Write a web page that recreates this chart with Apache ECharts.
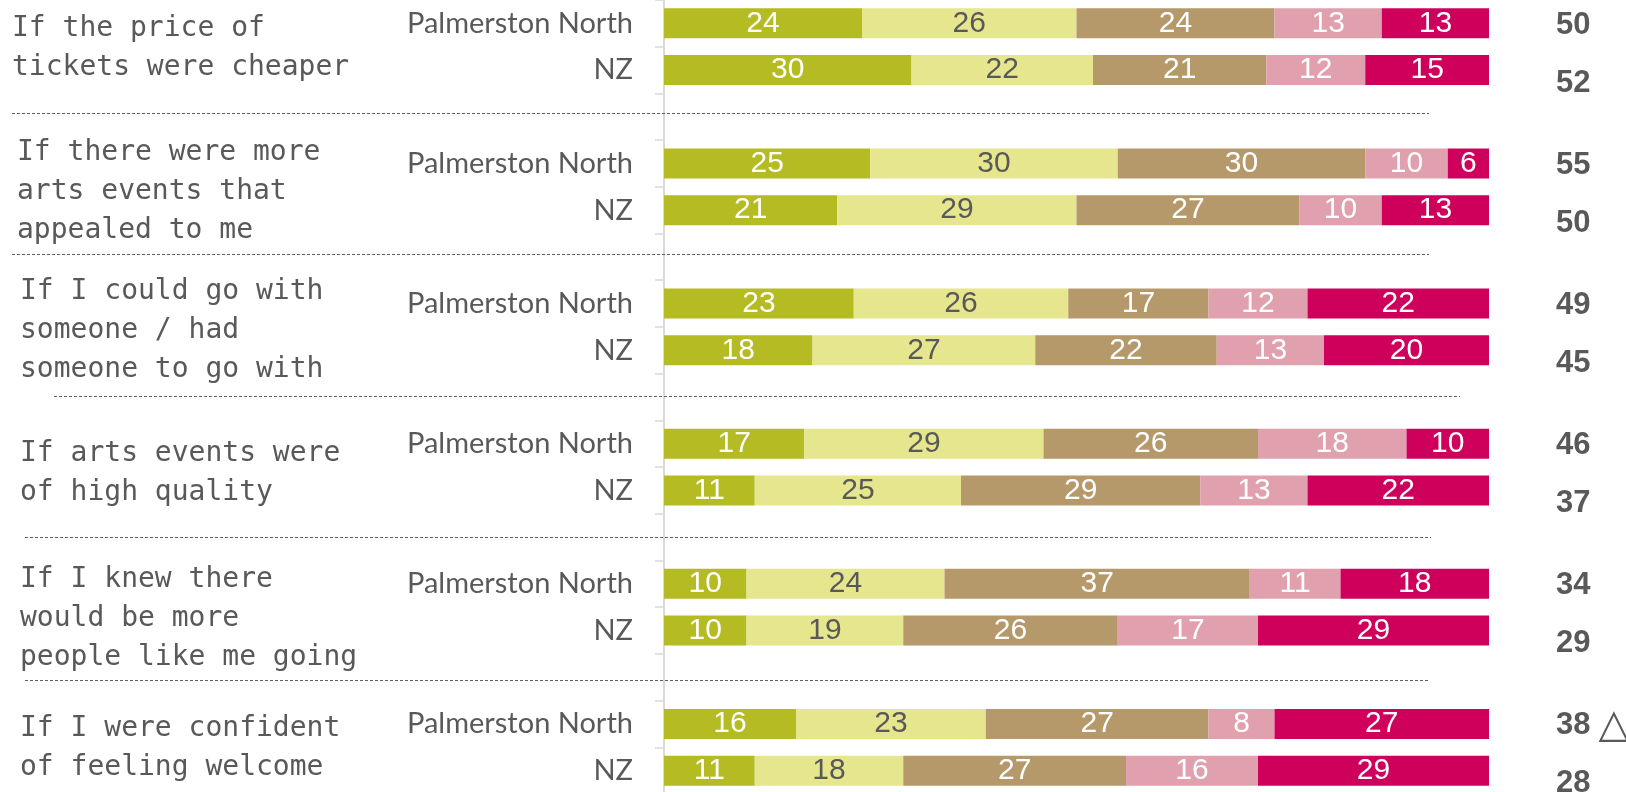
<!DOCTYPE html>
<html>
<head>
<meta charset="utf-8">
<script src="https://cdn.jsdelivr.net/npm/echarts@6/dist/echarts.min.js"></script>
<style>
html,body{margin:0;padding:0;background:#fff;}
#c{width:1626px;height:792px;}
</style>
</head>
<body>
<div id="c"></div>
<script>
// ---- data ----
const categories = ['Palmerston North','NZ','','Palmerston North','NZ','','Palmerston North','NZ','','Palmerston North','NZ','','Palmerston North','NZ','','Palmerston North','NZ'];
const groupLabels = [
  'If the price of\ntickets were cheaper',
  'If there were more\narts events that\nappealed to me',
  'If I could go with\nsomeone / had\nsomeone to go with',
  'If arts events were\nof high quality',
  'If I knew there\nwould be more\npeople like me going',
  'If I were confident\nof feeling welcome'
];
const groupPositions = [1, 4, 7, 10, 13, 16];
const seriesNames = ['Level 1','Level 2','Level 3','Level 4','Level 5'];
const level1 = [24,30,null,25,21,null,23,18,null,17,11,null,10,10,null,16,11];
const level2 = [26,22,null,30,29,null,26,27,null,29,25,null,24,19,null,23,18];
const level3 = [24,21,null,30,27,null,17,22,null,26,29,null,37,26,null,27,27];
const level4 = [13,12,null,10,10,null,12,13,null,18,13,null,11,17,null,8,16];
const level5 = [13,15,null,6,13,null,22,20,null,10,22,null,18,29,null,27,29];
const netValues = [50,52,null,55,50,null,49,45,null,46,37,null,34,29,null,38,28];
const sigUp = [false,false,false,false,false,false,false,false,false,false,false,false,false,false,false,true,false];
const separatorIndexes = [2,5,8,11,14];

// ---- styles ----
const colors = ['#b5bb22','#e6e68e','#b5996a','#e1a0ad','#ce005c'];
const labelColors = ['#ffffff','#595959','#ffffff','#ffffff','#ffffff'];
const gray = '#595959';
const sepExtents = [[12,1429],[12,1429],[54,1460],[25,1431],[25,1429]];
const sepShift = [-4,-3,-1,0,3];
const groupPadLeft = [0,5,8,8,8,8];
const groupShiftDown = [2,5,4,6,12,1];

const chart = echarts.init(document.getElementById('c'), null, {renderer:'canvas'});
const allSeries = [level1, level2, level3, level4, level5];

const groupRich = {};
groupPadLeft.forEach((p, i) => {
  groupRich['g' + i] = {fontFamily:'DejaVu Sans Mono', fontSize:28, color:gray, lineHeight:39,
    padding:[groupShiftDown[i]*2,0,0,p]};
});

const option = {
  animation: false,
  backgroundColor: '#ffffff',
  grid: {left: 664, right: 137, top: 0, height: 794, containLabel: false, outerBoundsMode: 'none'},
  xAxis: [{type:'value', min:0, max:100, show:false}],
  yAxis: [
    {
      type:'category', data: categories, inverse:true, position:'left',
      axisLine:{show:true, lineStyle:{color:'#d9d9d9', width:2}},
      axisTick:{show:true, length:9, interval:0, lineStyle:{color:'#d9d9d9', width:1.5}},
      axisLabel:{show:true, interval:0, margin:31, color:gray, fontFamily:'Lato', fontSize:29, align:'right'},
      splitLine:{show:false}
    },
    {
      type:'category', data: categories, inverse:true, position:'right',
      axisLine:{show:false}, axisTick:{show:false}, splitLine:{show:false},
      axisLabel:{
        show:true, interval:0, margin:67, align:'left',
        formatter: function(v, i){
          const n = netValues[i];
          if (n === null || n === undefined) return '';
          const style = (categories[i] === 'NZ') ? 'nz' : 'pn';
          return '{' + style + '|' + n + '}' + (sigUp[i] ? '{tri|△}' : '');
        },
        rich:{
          pn:{fontFamily:'Liberation Sans', fontWeight:'bold', fontSize:31, color:gray, padding:[4,0,0,0], verticalAlign:'middle'},
          nz:{fontFamily:'Liberation Sans', fontWeight:'bold', fontSize:31, color:gray, padding:[26,0,0,0], verticalAlign:'middle'},
          tri:{fontFamily:'DejaVu Sans', fontSize:40, color:gray, padding:[6,0,0,8], verticalAlign:'middle'}
        }
      }
    },
    {
      type:'value', min:0, max:17, inverse:true, position:'left',
      axisLine:{show:false}, axisTick:{show:false}, splitLine:{show:false},
      axisLabel:{
        show:true, customValues: groupPositions, margin: 652, align:'left',
        formatter: function(v){
          const gi = groupPositions.indexOf(Math.round(v));
          if (gi < 0) return '';
          return groupLabels[gi].split('\n').map(l => '{g' + gi + '|' + l + '}').join('\n');
        },
        rich: groupRich
      }
    }
  ],
  series: allSeries.map((d, si) => ({
    type:'bar', name: seriesNames[si], stack:'total', data:d,
    xAxisIndex:0, yAxisIndex:0, barWidth:30, clip:true,
    itemStyle:{color:colors[si]},
    label:{show:true, position:'inside', color:labelColors[si], fontFamily:'Liberation Sans', fontSize:30,
      formatter: p => (p.value === null || p.value === undefined) ? '' : String(p.value)}
  }))
};
chart.setOption(option);

const graphics = separatorIndexes.map((idx, k) => {
  const y = Math.round(chart.convertToPixel({yAxisIndex:0}, idx)) + sepShift[k] + 0.5;
  return {type:'line', shape:{x1:sepExtents[k][0], y1:y, x2:sepExtents[k][1], y2:y},
    style:{stroke:'#5f5f5f', lineWidth:1, lineDash:[3,2]}, silent:true, z:10};
});
chart.setOption({graphic: graphics});
</script>
</body>
</html>
